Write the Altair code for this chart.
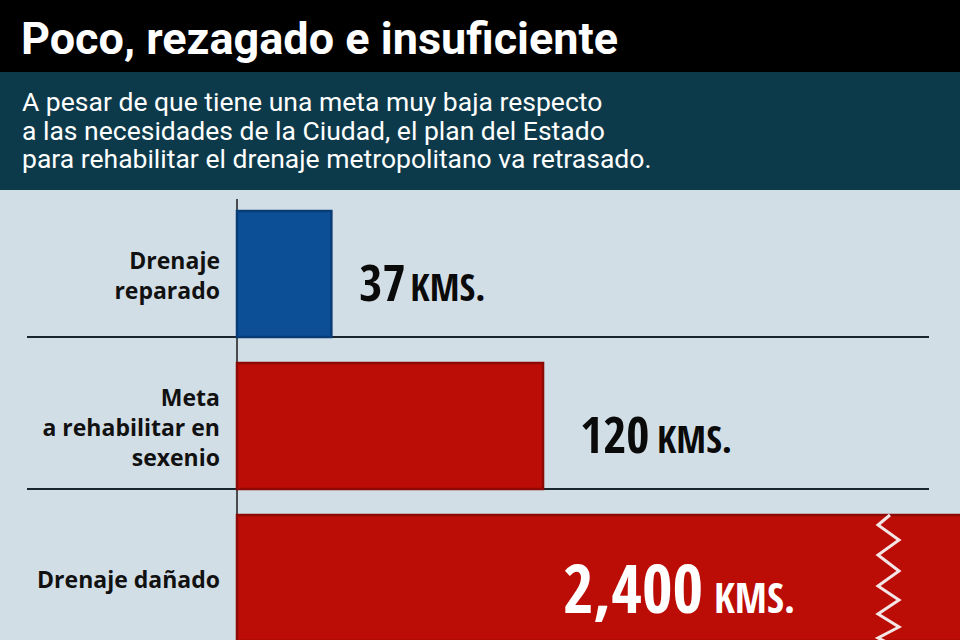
import altair as alt
import pandas as pd

# ---- data ----
title_text = ["Poco, rezagado e insuficiente"]
subtitle_lines = [
    "A pesar de que tiene una meta muy baja respecto",
    "a las necesidades de la Ciudad, el plan del Estado",
    "para rehabilitar el drenaje metropolitano va retrasado.",
]
categories = ["Drenaje\nreparado", "Meta\na rehabilitar en\nsexenio", "Drenaje dañado"]
values_km = [37, 120, 2400]
value_labels = ["37", "120", "2,400"]
unit_label = "KMS."
bar_colors = ["#0c4f97", "#bb0c06", "#bb0c06"]
bar_edges = ["#083c76", "#8f0904", "#8f0904"]

df = pd.DataFrame({
    "cat": categories,
    "km": values_km,
    "lbl": value_labels,
    "unit": [unit_label] * 3,
})

BG = "#d2dee6"
TEAL = "#0d3a4a"
COND = "Open Sans Condensed"
HEAD = "Roboto"
LABF = "Open Sans"

xscale = alt.Scale(domain=[0, 283.5], range=[237, 960], nice=False, zero=True)
yscale = alt.Scale(domain=categories, range=[211, 641], paddingInner=0.17, paddingOuter=0)

one = alt.Chart(pd.DataFrame({"k": [0]}))

band_black = one.mark_rect(color="#000000").encode(
    x=alt.value(0), x2=alt.value(960), y=alt.value(0), y2=alt.value(72))
band_teal = one.mark_rect(color=TEAL).encode(
    x=alt.value(0), x2=alt.value(960), y=alt.value(72), y2=alt.value(190))

title = alt.Chart(pd.DataFrame({"t": title_text})).mark_text(
    font=HEAD, fontSize=45, fontWeight="bold", color="white", align="left", baseline="alphabetic"
).encode(x=alt.value(21), y=alt.value(54), text="t:N")

sub_df = pd.DataFrame({"t": subtitle_lines, "i": list(range(len(subtitle_lines)))})
subs = []
for i, line in enumerate(subtitle_lines):
    subs.append(alt.Chart(sub_df[sub_df.i == i]).mark_text(
        font=HEAD, fontSize=26.5, color="white", align="left", baseline="alphabetic"
    ).encode(x=alt.value(22), y=alt.value(111 + i * 28.5), text="t:N"))

base = alt.Chart(df)

seps = base.transform_filter(alt.datum.km < 1000).mark_rule(color="#1b262c", strokeWidth=2).encode(
    y=alt.Y("cat:N", scale=yscale, axis=None, bandPosition=1),
    x=alt.value(27), x2=alt.value(929))

vline = one.mark_rule(color="#1b1b1b", strokeWidth=1.5).encode(
    x=alt.X(datum=0, scale=xscale, axis=None), y=alt.value(199), y2=alt.value(640))

bars = base.mark_bar(clip=True, strokeWidth=2.5).encode(
    x=alt.X("km:Q", scale=xscale, axis=None),
    x2=alt.datum(0),
    y=alt.Y("cat:N", scale=yscale, axis=None),
    color=alt.Color("cat:N", scale=alt.Scale(domain=categories, range=bar_colors), legend=None),
    stroke=alt.Stroke("cat:N", scale=alt.Scale(domain=categories, range=bar_edges), legend=None),
)

# category labels, one layer per category so multi-line blocks are centred on the band
LINE_H = 30
cat_layers = []
for c in categories:
    n = c.count("\n") + 1
    cat_layers.append(base.transform_filter(alt.datum.cat == c).mark_text(
        font=LABF, fontSize=23, fontWeight="bold", color="#111111", align="right", baseline="middle",
        lineBreak="\n", lineHeight=LINE_H, dy=3 - (n - 1) * LINE_H / 2
    ).encode(x=alt.value(220), y=alt.Y("cat:N", scale=yscale, axis=None), text="cat:N"))

# value labels next to the bars that fit, inside the truncated one
num_dx = {37: 28, 120: 37}
unit_dx = {37: 79, 120: 114}
val_layers = []
for v in values_km:
    sel = base.transform_filter(alt.datum.km == v)
    if v < 1000:
        val_layers.append(sel.mark_text(
            font=COND, fontSize=50, fontWeight="bold", color="#0a0a0a", align="left", baseline="alphabetic",
            dx=num_dx[v], dy=27
        ).encode(x=alt.X("km:Q", scale=xscale, axis=None), y=alt.Y("cat:N", scale=yscale, axis=None), text="lbl:N"))
        val_layers.append(sel.mark_text(
            font=COND, fontSize=38, fontWeight="bold", color="#0a0a0a", align="left", baseline="alphabetic",
            dx=unit_dx[v], dy=27
        ).encode(x=alt.X("km:Q", scale=xscale, axis=None), y=alt.Y("cat:N", scale=yscale, axis=None), text="unit:N"))
    else:
        val_layers.append(sel.mark_text(
            font=COND, fontSize=66, fontWeight="bold", color="white", align="left", baseline="alphabetic", dy=35
        ).encode(x=alt.value(563), y=alt.Y("cat:N", scale=yscale, axis=None), text="lbl:N"))
        val_layers.append(sel.mark_text(
            font=COND, fontSize=41, fontWeight="bold", color="white", align="left", baseline="alphabetic", dy=35
        ).encode(x=alt.value(714), y=alt.Y("cat:N", scale=yscale, axis=None), text="unit:N"))

# break marker (decorative zigzag on the truncated bar)
zig_x = [890, 878, 899, 878, 899, 878, 899, 878, 899, 878, 899]
zig_y = [515, 525, 540, 555, 571, 586, 600, 614, 627, 638, 648]
zig = alt.Chart(pd.DataFrame({"zx": zig_x, "zy": zig_y, "o": list(range(len(zig_x)))})).mark_line(
    color="#f4e6e6", strokeWidth=3, clip=True, strokeJoin="miter"
).encode(x=alt.X("zx:Q", scale=None), y=alt.Y("zy:Q", scale=None), order="o:Q")

chart = alt.layer(
    band_black, band_teal, title, *subs, seps, vline, bars, zig, *cat_layers, *val_layers
).properties(
    width=960, height=640, padding=0, autosize=alt.AutoSizeParams(type="none"), background=BG
).configure_view(stroke=None)

chart.save("out.html", embed_options={"renderer": "svg", "actions": False})
